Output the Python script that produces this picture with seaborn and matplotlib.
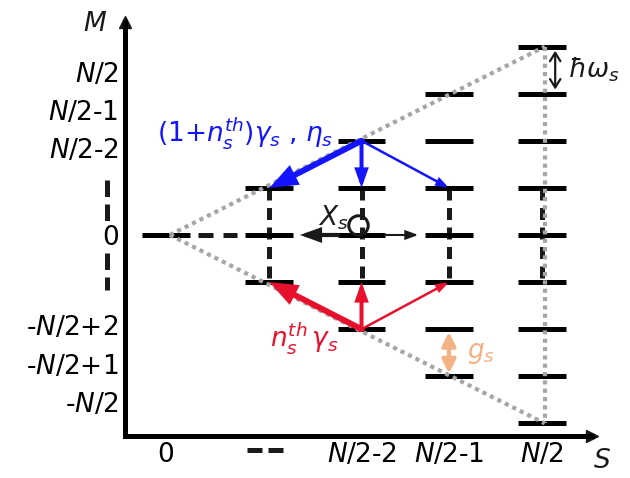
import matplotlib
matplotlib.use("Agg")
import matplotlib.pyplot as plt
import matplotlib.transforms as mtransforms
import pandas as pd
import seaborn as sns

# --- ladder data -----------------------------------------------------------
# spin sectors S along x, and the M levels that each sector holds
s_pos = [0.0, 1.1, 2.08, 3.01, 4.0]
s_levels = [
    [0],
    [1, 0, -1],
    [2, 1, 0, -1, -2],
    [3, 2, 1, 0, -1, -2, -3],
    [4, 3, 2, 1, 0, -1, -2, -3, -4],
]
x_tick_labels = ["0", "", "$N$/2-2", "$N$/2-1", "$N$/2"]
y_tick_pos = [3.45, 2.65, 1.85, 0.0, -1.91, -2.74, -3.55]
y_tick_labels = ["$N$/2", "$N$/2-1", "$N$/2-2", "0",
                 "-$N$/2+2", "-$N$/2+1", "-$N$/2"]

# dotted envelope of the ladder
guide_s = [0.04, 4.03]
guide_top = [0, 4]
guide_bot = [0, -4]

# transitions as (column index, M) -> (column index, M), thick to thin
blue_moves = [((2, 2), (1, 1)), ((2, 2), (2, 1)), ((2, 2), (3, 1))]
red_moves = [((2, -2), (1, -1)), ((2, -2), (2, -1)), ((2, -2), (3, -1))]
dephase_moves = [((2, 0), (1, 0)), ((2, 0), (3, 0))]

# --- style -----------------------------------------------------------------
sns.set_theme(style="white")
plt.rcParams["font.family"] = ["DejaVu Sans"]
plt.rcParams["mathtext.fontset"] = "dejavusans"

BLUE = "#1414ff"
RED = "#e8112d"
ORANGE = "#f4b183"
GREY = "#a6a6a6"
FS = 19
HW = 0.255   # half width of a level bar
LW = 3.6

fig = plt.figure(figsize=(6.3, 4.78), dpi=100)
ax = fig.add_axes([125.5 / 630, 42 / 478, (592 - 125.5) / 630, (456 - 42) / 478])
ax.set_xlim(-0.431, 4.532)
ax.set_ylim(-4.268, 4.522)

for side in ["top", "right"]:
    ax.spines[side].set_visible(False)
for side in ["left", "bottom"]:
    ax.spines[side].set_linewidth(LW)
    ax.spines[side].set_color("black")
ax.plot(1, 0, ">k", ms=8, transform=ax.transAxes, clip_on=False)
ax.plot(0, 1, "^k", ms=8, transform=ax.transAxes, clip_on=False)

ax.set_xticks(s_pos, x_tick_labels)
ax.set_yticks(y_tick_pos, y_tick_labels)
ax.tick_params(axis="both", length=0, labelsize=FS, colors="black")
ax.tick_params(axis="x", pad=4)
ax.tick_params(axis="y", pad=5)

# the "- -" tick under the second column and the vertical dots on the M axis
ax.plot([s_pos[1] - 0.24, s_pos[1] + 0.145], [-0.034, -0.034], color="k", lw=LW,
        ls=(0, (3, 1.2)), transform=ax.get_xaxis_transform(), clip_on=False)
for m0, m1 in [(1.17, 0.28), (-0.38, -1.17)]:
    ax.plot([-0.628, -0.628], [m0, m1], color="k", lw=LW, ls=(0, (3.3, 1.5)),
            clip_on=False, solid_capstyle="butt", dash_capstyle="butt")

# --- levels ------------------------------------------------------------------
levels = pd.DataFrame([(s_pos[i], m) for i, ms in enumerate(s_levels) for m in ms],
                      columns=["S", "M"])
ax.hlines(levels["M"], levels["S"] - HW, levels["S"] + HW, color="black", lw=LW, zorder=3)

for s in s_pos[1:]:
    ax.plot([s, s], [1, -1], color="k", lw=LW, ls=(0, (2.4, 1.5)), zorder=2,
            dash_capstyle="butt")
ax.plot([s_pos[0] + HW + 0.08, s_pos[1] - HW - 0.09], [0, 0], color="k", lw=LW,
        ls=(0, (3, 2)), zorder=2, dash_capstyle="butt")

# dotted envelope
guides = pd.DataFrame({"S": guide_s * 2, "M": guide_top + guide_bot,
                       "edge": ["top", "top", "bottom", "bottom"]})
sns.lineplot(data=guides, x="S", y="M", units="edge", estimator=None, color=GREY,
             lw=3, linestyle=(0, (1, 1)), ax=ax, zorder=4)
ax.plot([guide_s[1], guide_s[1]], [guide_top[1], guide_bot[1]], color=GREY, lw=3,
        ls=(0, (1, 1)), zorder=4)
ax.set_xlabel("")
ax.set_ylabel("")


# --- transitions -------------------------------------------------------------
def move(src, dst, color, lw, hl, hw, sa=0, sb=0):
    ax.annotate("", xy=(s_pos[dst[0]], dst[1]), xytext=(s_pos[src[0]], src[1]),
                arrowprops=dict(arrowstyle=f"-|>,head_length={hl},head_width={hw}",
                                color=color, lw=lw, shrinkA=sa, shrinkB=sb,
                                mutation_scale=20, joinstyle="miter"),
                zorder=5)


weights = [(4.3, 0.62, 0.24), (2.9, 0.45, 0.16), (1.8, 0.32, 0.11)]
for (src, dst), (lw, hl, hw) in zip(blue_moves, weights):
    move(src, dst, BLUE, lw, hl, hw)
for (src, dst), (lw, hl, hw) in zip(red_moves, weights):
    move(src, dst, RED, lw, hl, hw)
for (src, dst), (lw, hl, hw) in zip(dephase_moves, [(3.0, 0.5, 0.18), (1.5, 0.36, 0.13)]):
    move(src, dst, "k", lw, hl, hw, sa=17, sb=22)

# self loop of the dephasing channel
loop_tr = mtransforms.offset_copy(ax.transData, fig=fig, x=-2.5, y=7.0, units="points")
ax.plot(s_pos[2], 0, "o", mfc="none", mec="k", ms=14, mew=2.2, transform=loop_tr, zorder=6)

# level spacing and detuning markers
hbar_tr = mtransforms.offset_copy(ax.transData, fig=fig, x=9.5, units="points")
ax.annotate("", xy=(s_pos[4], 3), xytext=(s_pos[4], 4), xycoords=hbar_tr, textcoords=hbar_tr,
            arrowprops=dict(arrowstyle="<->,head_length=0.4,head_width=0.25", color="k",
                            lw=1.6, shrinkA=3, shrinkB=3, mutation_scale=15))
ax.annotate("", xy=(s_pos[3], -3), xytext=(s_pos[3], -2),
            arrowprops=dict(arrowstyle="<|-|>,head_length=0.4,head_width=0.2", color=ORANGE,
                            lw=3.0, shrinkA=2, shrinkB=2, mutation_scale=20))

# --- labels ------------------------------------------------------------------
ax.text(-0.096, 2.17, r"$(\mathit{1}{+}n_s^{th})\gamma_s$ , $\eta_s$", color=BLUE,
        fontsize=FS, ha="left", va="center")
ax.text(1.106, -2.19, r"$n_s^{th}\,\gamma_s$", color=RED, fontsize=FS, ha="left", va="center")
ax.text(1.78, 0.36, r"$X_s$", color="k", fontsize=FS, ha="center", va="center")
ax.text(4.28, 3.5, r"$\hbar\omega_s$", color="k", fontsize=FS, ha="left", va="center")
ax.text(3.2, -2.5, r"$g_s$", color=ORANGE, fontsize=FS, ha="left", va="center")
ax.text(-0.755, 4.48, r"$M$", color="k", fontsize=FS, ha="center", va="center")
ax.text(4.64, -4.80, r"$S$", color="k", fontsize=FS, ha="center", va="center")

fig.savefig("out.png", dpi=100)
